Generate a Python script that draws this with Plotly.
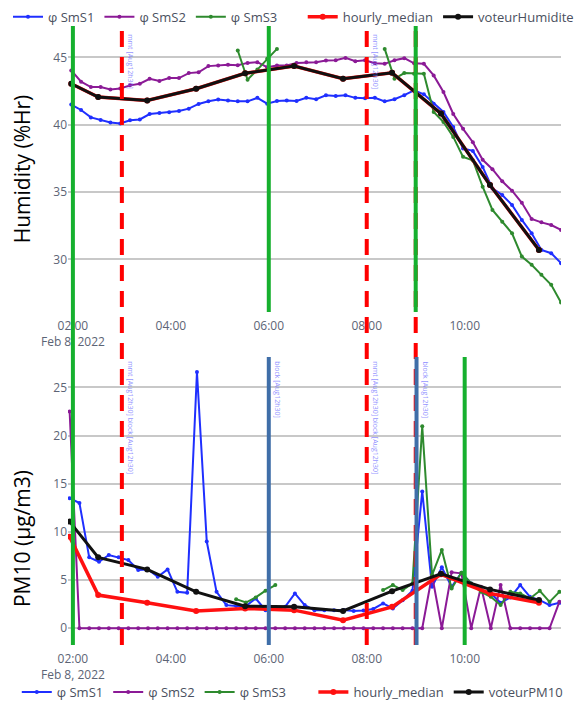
import plotly.graph_objects as go
import pandas as pd

day = "2022-02-08 "

# ---------------- data : humidity (top) ----------------
time_top = pd.date_range(day + "01:58", periods=51, freq="12min")
hum_sms1 = [41.5, 41.1, 40.55, 40.35, 40.17, 40.1, 40.33, 40.4, 40.8, 40.88,
            40.93, 41.02, 41.2, 41.55, 41.75, 41.87, 41.81, 41.74, 41.74, 42.0,
            41.57, 41.77, 41.8, 41.77, 42.0, 41.9, 42.19, 42.14, 42.19, 42.0,
            41.98, 42.0, 41.74, 41.9, 42.2, 42.56, 42.26, 41.57, 40.95, 39.84,
            38.24, 38.06, 36.87, 35.27, 34.78, 34.04, 32.93, 31.94, 30.7, 30.46, 29.72]
hum_sms2 = [44.04, 43.2, 42.8, 42.8, 42.63, 42.7, 42.93, 43.05, 43.42, 43.25,
            43.47, 43.47, 43.84, 43.9, 44.36, 44.4, 44.46, 44.42, 44.6, 44.65,
            44.28, 44.41, 44.41, 44.6, 44.65, 44.65, 44.78, 44.8, 44.97, 44.73,
            44.8, 44.57, 44.53, 44.8, 44.95, 44.57, 44.53, 43.67, 42.43, 40.8,
            39.7, 38.7, 37.4, 36.7, 35.8, 35.1, 34.2, 33.0, 32.75, 32.55, 32.19]
hum_sms3 = [None] * 17 + [45.52, 43.35, 44.1, 44.9, 45.64] + [None] * 10 + \
           [45.64, 43.42, 43.84, 43.8, 43.79, 40.95, 40.21, 39.1, 37.62, 37.37,
            35.4, 33.67, 32.8, 31.94, 30.21, 29.6, 28.85, 28.11, 26.8]
hourly_top_time = [day + t for t in ["01:58", "02:31", "03:31", "04:31", "05:31", "06:31",
                                     "07:31", "08:31", "09:31", "10:31", "11:31"]]
hum_hourly_median = [43.05, 42.06, 41.81, 42.68, 43.83, 44.36, 43.42, 43.86, 40.83, 35.52, 30.7]
hum_voteur = [43.05, 42.06, 41.81, 42.68, 43.83, 44.36, 43.42, 43.86, 40.83, 35.52, 30.7]

# ---------------- data : PM10 (bottom) ----------------
time_bot = pd.date_range(day + "01:56", periods=51, freq="12min")
pm_sms1 = [13.5, 13.0, 7.36, 6.9, 7.6, 7.36, 7.08, 6.04, 6.11, 5.35,
           6.11, 3.78, 3.68, 26.6, 9.0, 3.78, 2.4, 2.3, 2.3, 3.09,
           1.88, 2.05, 2.22, 3.61, 2.4, 1.88, 1.88, 1.88, 1.9, 1.8,
           1.85, 2.0, 2.57, 2.05, 2.9, 3.89, 14.2, 4.3, 6.32, 4.3,
           5.76, 4.65, 3.96, 3.61, 2.64, 3.2, 4.48, 3.26, 2.92, 2.4, 2.64]
pm_sms2 = [22.5] + [0] * 36 + [5.5, 0, 5.8, 5.7, 0, 4.3, 0, 4.48, 0, 0, 0, 0, 0, 2.74]
pm_sms3 = [None] * 17 + [3.02, 2.67, 3.2, 3.9, 4.48] + [None] * 10 + \
          [3.96, 4.48, 3.96, 4.65, 20.97, 5.52, 8.13, 4.13, 5.76, 4.65,
           3.78, 3.26, 2.4, 3.78, 3.61, 3.09, 3.89, 2.74, 3.78]
hourly_bot_time = [day + t for t in ["01:56", "02:31", "03:31", "04:31", "05:31", "06:31",
                                     "07:31", "08:31", "09:31", "10:31", "11:31"]]
pm_hourly_median = [9.51, 3.44, 2.64, 1.8, 2.05, 1.88, 0.83, 2.22, 5.6, 3.61, 2.64]
pm_voteur = [11.07, 7.36, 6.11, 3.78, 2.29, 2.22, 1.8, 3.85, 5.65, 4.03, 2.92]

# ---------------- event markers ----------------
span_green_events = [day + "02:00"]                      # crosses both panels
span_red_events = [day + "03:00", day + "08:00", day + "09:00"]
top_green_events = [day + "06:00", day + "09:00"]
bot_green_events = [day + "10:00"]
bot_blue_events = [day + "06:00", day + "09:01"]
top_notes = [(day + "03:00", "mmt [Aug12h30]"), (day + "08:00", "mmt [Aug12h30]")]
bot_notes = [(day + "03:00", "mmt [Aug12h30] block [Aug12h30]"),
             (day + "06:00", "block [Aug12h30]"),
             (day + "08:00", "mmt [Aug12h30] block [Aug12h30]"),
             (day + "09:01", "block [Aug12h30]")]

C_BLUE, C_PURPLE, C_GREEN = "#1f2fff", "#8b1a96", "#2e8a2e"
C_RED, C_BLACK = "#ff1010", "#111111"
VL_GREEN, VL_RED, VL_BLUE = "#16b02e", "#ff0000", "#3f6ea8"

TOP_DOM = [0.53333, 0.98730]
BOT_DOM = [0.00476, 0.46190]

fig = go.Figure()


def add_series(x, y, name, color, xa, ya, legend, width=2, size=4):
    fig.add_trace(go.Scatter(x=x, y=y, name=name, mode="lines+markers",
                             line=dict(color=color, width=width),
                             marker=dict(color=color, size=size),
                             xaxis=xa, yaxis=ya, legend=legend))


add_series(time_top, hum_sms1, "φ SmS1", C_BLUE, "x", "y", "legend")
add_series(time_top, hum_sms2, "φ SmS2", C_PURPLE, "x", "y", "legend")
add_series(time_top, hum_sms3, "φ SmS3", C_GREEN, "x", "y", "legend")
add_series(hourly_top_time, hum_hourly_median, "hourly_median", C_RED, "x", "y", "legend3", 3.5, 6)
add_series(hourly_top_time, hum_voteur, "voteurHumidite", C_BLACK, "x", "y", "legend3", 3, 6)

add_series(time_bot, pm_sms1, "φ SmS1", C_BLUE, "x2", "y2", "legend2")
add_series(time_bot, pm_sms2, "φ SmS2", C_PURPLE, "x2", "y2", "legend2")
add_series(time_bot, pm_sms3, "φ SmS3", C_GREEN, "x2", "y2", "legend2")
add_series(hourly_bot_time, pm_hourly_median, "hourly_median", C_RED, "x2", "y2", "legend4", 3.5, 6)
add_series(hourly_bot_time, pm_voteur, "voteurPM10", C_BLACK, "x2", "y2", "legend4", 3, 6)


def vline(t, xref, yref, y0, y1, color, dash=None):
    fig.add_shape(type="line", x0=t, x1=t, y0=y0, y1=y1, xref=xref, yref=yref,
                  line=dict(color=color, width=4, dash=dash))


for t in span_red_events:
    vline(t, "x", "paper", BOT_DOM[0], TOP_DOM[1], VL_RED, "16px,10px")
for t in span_green_events:
    vline(t, "x", "paper", BOT_DOM[0], TOP_DOM[1], VL_GREEN)
for t in top_green_events:
    vline(t, "x", "y domain", 0, 1, VL_GREEN)
for t in bot_green_events:
    vline(t, "x2", "y2 domain", 0, 1, VL_GREEN)
for t in bot_blue_events:
    vline(t, "x2", "y2 domain", 0, 1, VL_BLUE)

for t, txt in top_notes:
    fig.add_annotation(x=t, y=1, xref="x", yref="y domain", text=txt, textangle=90,
                       showarrow=False, xanchor="left", yanchor="top", xshift=2, yshift=-6,
                       font=dict(size=7, color="rgba(110,110,255,0.75)"))
for t, txt in bot_notes:
    fig.add_annotation(x=t, y=1, xref="x2", yref="y2 domain", text=txt, textangle=90,
                       showarrow=False, xanchor="left", yanchor="top", xshift=2, yshift=-2,
                       font=dict(size=7, color="rgba(110,110,255,0.75)"))

# y title of lower panel
fig.add_annotation(x=0, y=0.173, xref="paper", yref="paper", text="PM10 (µg/m3)",
                   textangle=-90, showarrow=False, xanchor="center", yanchor="middle",
                   xshift=-46, font=dict(size=21, color="black"))

xcommon = dict(type="date", dtick=7200000, tick0=day + "00:00", showgrid=False,
               zeroline=False, showline=False, ticks="", automargin=False,
               ticklabelstandoff=5,
               tickfont=dict(size=12, color="#5c6475"),
               range=[day + "01:54", day + "11:58"])
ycommon = dict(showgrid=True, gridcolor="#c8c8c8", gridwidth=1.5, zeroline=False,
               showline=False, ticks="", dtick=5, automargin=False,
               tickfont=dict(size=12, color="#5c6475"))
legcommon = dict(orientation="h", xref="container", yref="container",
                 xanchor="left", yanchor="middle", bgcolor="rgba(0,0,0,0)",
                 font=dict(size=13, color="#4a5060"))

fig.update_layout(
    width=582, height=708,
    margin=dict(l=60, r=29, t=10, b=68, autoexpand=False),
    paper_bgcolor="white", plot_bgcolor="white",
    font=dict(family="Open Sans", color="#444"),
    xaxis=dict(xcommon, anchor="y", domain=[0, 1]),
    yaxis=dict(ycommon, anchor="x", domain=TOP_DOM, range=[26.09, 47.34],
               title=dict(text="Humidity (%Hr)", font=dict(size=21, color="black"), standoff=17)),
    xaxis2=dict(xcommon, anchor="y2", domain=[0, 1]),
    yaxis2=dict(ycommon, anchor="x2", domain=BOT_DOM, range=[-1.74, 28.16]),
    legend=dict(legcommon, x=-0.004, y=0.9875),
    legend3=dict(legcommon, x=0.5064, y=0.9875),
    legend2=dict(legcommon, x=0.0151, y=0.0339),
    legend4=dict(legcommon, x=0.5247, y=0.0339),
)

fig.write_html("out.html")
